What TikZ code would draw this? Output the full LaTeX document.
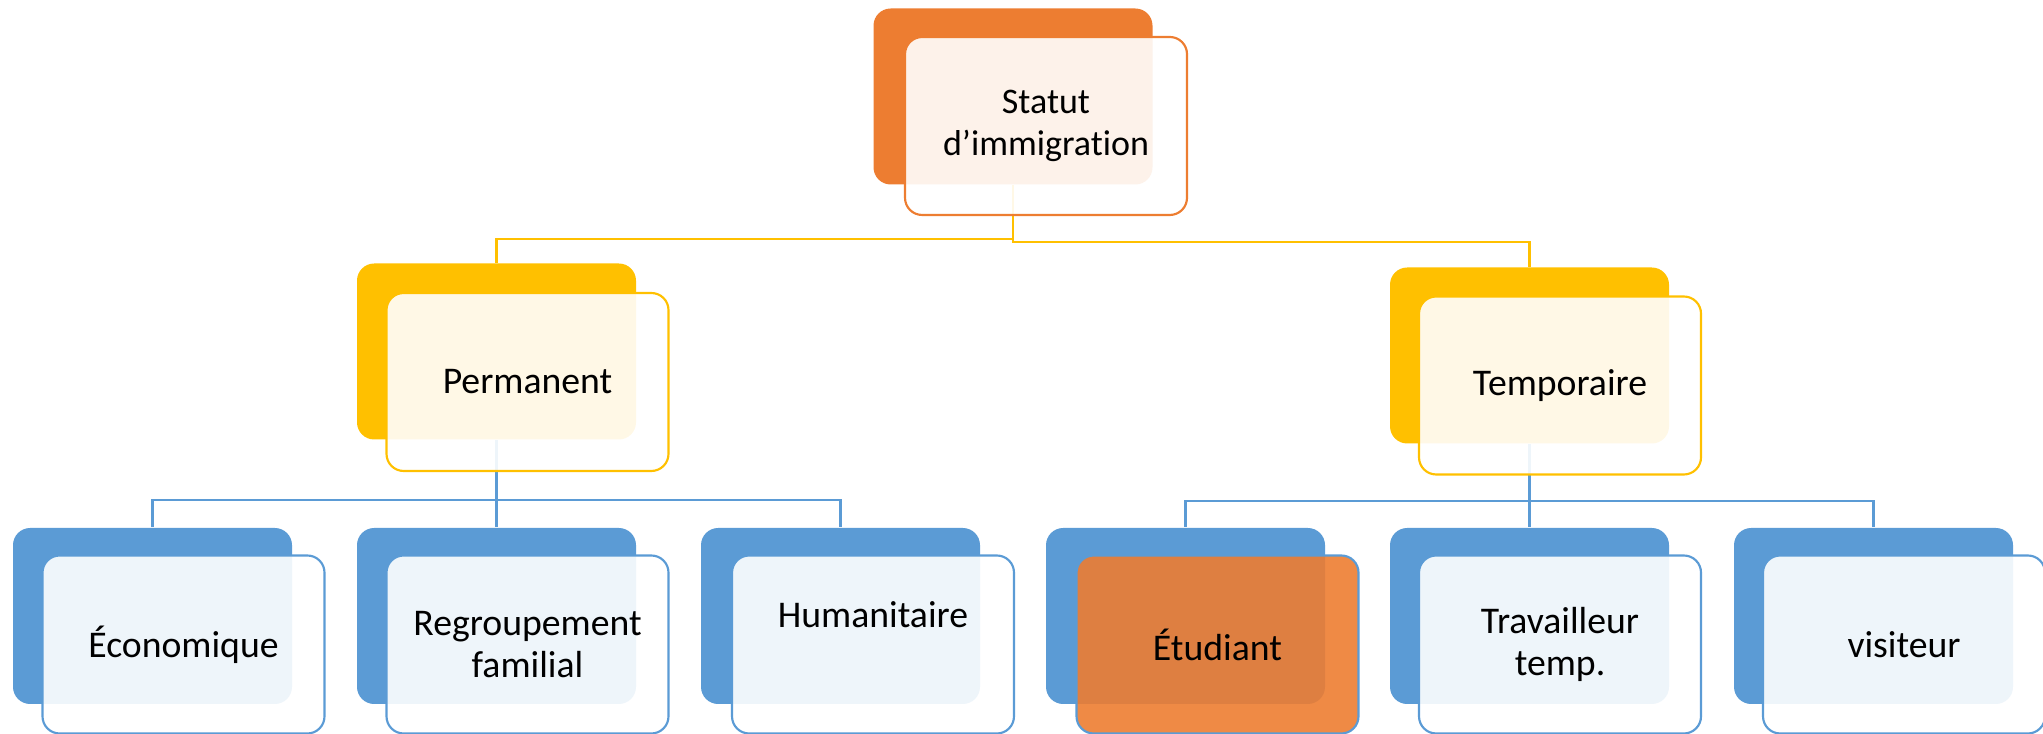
\documentclass[tikz,border=0pt]{standalone}
\usepackage{fontspec}
\setmainfont[Ligatures={NoCommon}]{Carlito}
\usetikzlibrary{backgrounds}
\definecolor{orng}{HTML}{ED7D31}
\definecolor{gold}{HTML}{FFC000}
\definecolor{blu}{HTML}{5B9BD5}
\tikzset{
  backbox/.style={rectangle, rounded corners=6pt, minimum width=97.65pt, minimum height=61.6pt, inner sep=0pt, draw=none, fill=#1},
  frontbox/.style={rectangle, rounded corners=6pt, minimum width=98.7pt, minimum height=62.3pt, inner sep=0pt, draw=#1, line width=0.75pt, fill=white, fill opacity=0.9, draw opacity=1, text opacity=1, align=center, font=\fontsize{13.2}{15}\selectfont},
  conn/.style={draw=#1, line width=1pt},
}
\begin{document}
\begin{tikzpicture}[x=0.35pt, y=-0.35pt]
\useasboundingbox (0,0) rectangle (2043,734);
% level 0
\node[backbox=orng] (topb) at (1013,96.5) {};
\node[frontbox=orng, font=\fontsize{12.6}{14.7}\selectfont] (topf) at (1046,126) {Statut\\d’immigration};
% level 1
\node[backbox=gold] (permb) at (496.5,351.5) {};
\node[frontbox=gold] (permf) at (527.5,382) {Permanent};
\node[backbox=gold] (tempb) at (1529.5,355.5) {};
\node[frontbox=gold] (tempf) at (1560,385.5) {Temporaire};
% level 2
\node[backbox=blu] (ecob) at (152.5,616) {};
\node[frontbox=blu] (ecof) at (183.5,644.5) {Économique};
\node[backbox=blu] (regb) at (496.5,616) {};
\node[frontbox=blu] (regf) at (527.5,644.5) {Regroupement\\familial};
\node[backbox=blu] (humb) at (840.5,616) {};
\node[frontbox=blu] (humf) at (873,644.5) {Humanitaire\\[6pt]~};
\node[backbox=blu] (etub) at (1185.5,616) {};
\node[frontbox=blu, fill=orng] (etuf) at (1217.5,644.5) {Étudiant};
\node[backbox=blu] (travb) at (1529.5,616) {};
\node[frontbox=blu] (travf) at (1560,644.5) {Travailleur\\temp.};
\node[backbox=blu] (visb) at (1873.5,616) {};
\node[frontbox=blu] (visf) at (1904,644.5) {visiteur};
% connectors
\coordinate (mA) at (0,239);
\coordinate (mB) at (0,242);
\coordinate (mC) at (0,500);
\coordinate (mD) at (0,501);
\begin{pgfonlayer}{background}
\draw[conn=gold] (topb.south) -- (topb.south |- mA) -| (permb.north);
\draw[conn=gold] (topb.south) -- (topb.south |- mB) -| (tempb.north);
\draw[conn=blu] (permb.south) -- (permb.south |- mC) -| (ecob.north);
\draw[conn=blu] (permb.south) -- (permb.south |- mC) -| (regb.north);
\draw[conn=blu] (permb.south) -- (permb.south |- mC) -| (humb.north);
\draw[conn=blu] (tempb.south) -- (tempb.south |- mD) -| (etub.north);
\draw[conn=blu] (tempb.south) -- (tempb.south |- mD) -| (travb.north);
\draw[conn=blu] (tempb.south) -- (tempb.south |- mD) -| (visb.north);
\end{pgfonlayer}
\end{tikzpicture}
\end{document}
